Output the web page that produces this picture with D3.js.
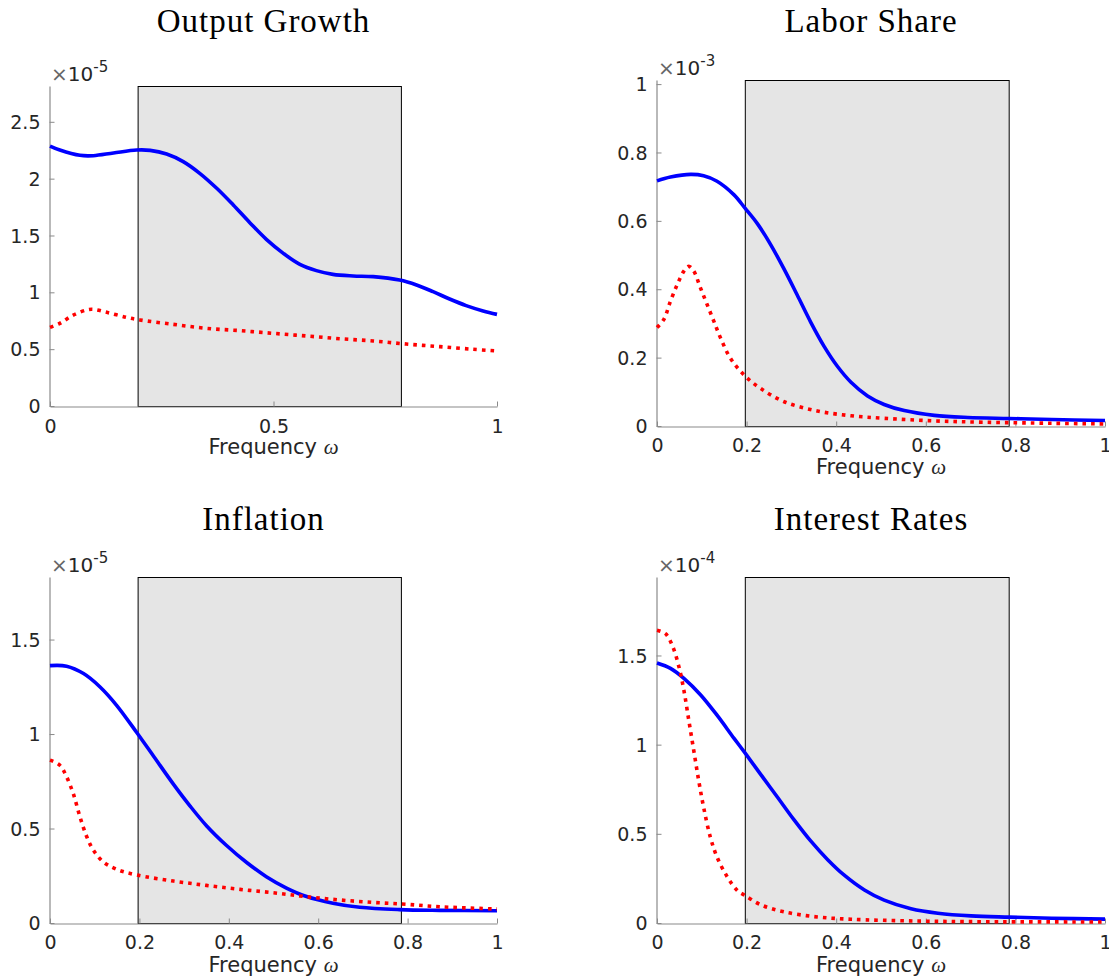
<!DOCTYPE html>
<html><head><meta charset="utf-8">
<script src="https://cdn.jsdelivr.net/npm/d3@7"></script>
<style>body{margin:0;background:#fff} svg{display:block}</style>
</head><body>
<svg id="c" width="1109" height="976"></svg>
<script>
// ---------- data ----------
const panelTitles = ["Output Growth", "Labor Share", "Inflation", "Interest Rates"];
const panelExponents = ["-5", "-3", "-5", "-4"];
const panelYMax = [2.815, 1.012, 1.831, 1.94];
const xTicksCoarse = [0, 0.5, 1];
const xTicksFine = [0, 0.2, 0.4, 0.6, 0.8, 1];
const yTicksOutput = [0, 0.5, 1, 1.5, 2, 2.5];
const yTicksLabor = [0, 0.2, 0.4, 0.6, 0.8, 1];
const yTicksInflation = [0, 0.5, 1, 1.5];
const yTicksInterest = [0, 0.5, 1, 1.5];
const businessCycleBand = [0.196, 0.785];

// Output Growth (x1e-5)
const outputSolidX = [0,0.022,0.067,0.097,0.142,0.194,0.224,0.261,0.298,0.335,0.373,0.41,0.447,0.484,0.522,0.559,0.596,0.633,0.678,0.723,0.782,0.82,0.857,0.894,0.931,0.969,1];
const outputSolidY = [2.287,2.252,2.205,2.202,2.226,2.252,2.249,2.217,2.150,2.047,1.915,1.768,1.613,1.466,1.343,1.246,1.191,1.158,1.144,1.138,1.108,1.065,1.006,0.941,0.883,0.836,0.806];
const outputDotX = [0,0.022,0.052,0.082,0.097,0.127,0.171,0.201,0.276,0.35,0.425,0.5,0.574,0.648,0.723,0.797,0.872,0.946,1];
const outputDotY = [0.692,0.727,0.80,0.845,0.850,0.824,0.780,0.757,0.718,0.683,0.663,0.639,0.616,0.592,0.572,0.545,0.522,0.499,0.484];

// Labor Share (x1e-3)
const laborSolidX = [0,0.03,0.075,0.104,0.134,0.172,0.196,0.224,0.254,0.284,0.313,0.343,0.373,0.403,0.433,0.47,0.507,0.552,0.619,0.694,0.786,0.881,1];
const laborSolidY = [0.717,0.728,0.736,0.732,0.716,0.676,0.638,0.592,0.530,0.458,0.383,0.304,0.233,0.174,0.128,0.088,0.063,0.045,0.031,0.025,0.022,0.019,0.016];
const laborDotX = [0,0.015,0.03,0.045,0.06,0.071,0.082,0.097,0.112,0.127,0.142,0.164,0.196,0.231,0.284,0.358,0.433,0.507,0.619,0.731,0.881,1];
const laborDotY = [0.288,0.311,0.365,0.413,0.453,0.467,0.453,0.404,0.355,0.306,0.257,0.198,0.147,0.110,0.071,0.044,0.030,0.0225,0.015,0.011,0.008,0.006];

// Inflation (x1e-5)
const inflSolidX = [0,0.037,0.075,0.112,0.149,0.194,0.231,0.276,0.313,0.35,0.395,0.44,0.484,0.529,0.574,0.633,0.693,0.782,0.872,1];
const inflSolidY = [1.362,1.359,1.320,1.249,1.152,1.008,0.885,0.735,0.620,0.515,0.410,0.320,0.245,0.185,0.140,0.105,0.083,0.071,0.067,0.065];
const inflDotX = [0,0.022,0.037,0.052,0.067,0.082,0.097,0.119,0.149,0.194,0.276,0.35,0.425,0.5,0.574,0.648,0.723,0.797,0.872,1];
const inflDotY = [0.862,0.835,0.774,0.685,0.562,0.458,0.386,0.324,0.284,0.254,0.222,0.199,0.178,0.160,0.139,0.122,0.109,0.099,0.086,0.074];

// Interest Rates (x1e-4)
const rateSolidX = [0,0.03,0.06,0.097,0.134,0.172,0.196,0.231,0.269,0.306,0.343,0.381,0.418,0.463,0.507,0.567,0.627,0.701,0.786,0.881,1];
const rateSolidY = [1.458,1.428,1.372,1.280,1.165,1.035,0.955,0.835,0.705,0.578,0.460,0.355,0.268,0.185,0.128,0.080,0.055,0.040,0.033,0.027,0.022];
const rateDotX = [0,0.019,0.034,0.049,0.06,0.071,0.082,0.093,0.104,0.119,0.134,0.157,0.179,0.196,0.231,0.284,0.358,0.433,0.582,0.731,1];
const rateDotY = [1.641,1.622,1.557,1.436,1.305,1.136,0.968,0.800,0.650,0.482,0.370,0.258,0.183,0.155,0.103,0.062,0.034,0.021,0.011,0.007,0.006];

// ---------- layout ----------
const layout = [
  {left:50, right:497, top:86, bottom:406, titleY:32, xLabBase:26, xTitleBase:48},
  {left:657, right:1105, top:80, bottom:426, titleY:32, xLabBase:25, xTitleBase:48},
  {left:50, right:497, top:577, bottom:923, titleY:530, xLabBase:25, xTitleBase:49},
  {left:657, right:1105, top:577, bottom:923, titleY:530, xLabBase:25, xTitleBase:49}
];
const panelXTicks = [xTicksCoarse, xTicksFine, xTicksFine, xTicksFine];
const panelYTicks = [yTicksOutput, yTicksLabor, yTicksInflation, yTicksInterest];
const panelSeries = [
  [[outputSolidX, outputSolidY], [outputDotX, outputDotY]],
  [[laborSolidX, laborSolidY], [laborDotX, laborDotY]],
  [[inflSolidX, inflSolidY], [inflDotX, inflDotY]],
  [[rateSolidX, rateSolidY], [rateDotX, rateDotY]]
];

const svg = d3.select("#c");
const axisColor = "#8a8a8a", textColor = "#262626";
const tickFont = "'DejaVu Sans', sans-serif";

layout.forEach((L, i) => {
  const x = d3.scaleLinear().domain([0, 1]).range([L.left, L.right]);
  const y = d3.scaleLinear().domain([0, panelYMax[i]]).range([L.bottom, L.top]);
  const g = svg.append("g");

  // shaded band
  g.append("rect")
    .attr("x", x(businessCycleBand[0]) + 0.5).attr("y", L.top + 0.5)
    .attr("width", x(businessCycleBand[1]) - x(businessCycleBand[0]))
    .attr("height", L.bottom - L.top)
    .attr("fill", "#e5e5e5").attr("stroke", "#000").attr("stroke-width", 1);

  // axes
  const xAxis = d3.axisBottom(x).tickValues(panelXTicks[i]).tickSize(0).tickPadding(0)
    .tickFormat(d3.format("~g"));
  const gx = g.append("g").attr("transform", `translate(0,${L.bottom + 0.5})`).call(xAxis);
  gx.select(".domain").attr("stroke", axisColor).attr("stroke-width", 1.2);
  gx.selectAll(".tick text").attr("y", L.xLabBase).attr("dy", 0)
    .attr("fill", textColor).style("font", `19px ${tickFont}`);
  gx.selectAll(".tick").append("line").attr("y1", 0).attr("y2", -5).attr("stroke", axisColor);

  const yAxis = d3.axisLeft(y).tickValues(panelYTicks[i]).tickSize(0).tickPadding(9)
    .tickFormat(d3.format("~g"));
  const gy = g.append("g").attr("transform", `translate(${L.left - 0.5},0)`).call(yAxis);
  gy.select(".domain").attr("stroke", axisColor).attr("stroke-width", 1.2);
  gy.selectAll(".tick text").attr("fill", textColor).attr("dy", "0.35em").style("font", `19px ${tickFont}`);
  gy.selectAll(".tick").append("line").attr("x1", 0).attr("x2", 5).attr("stroke", axisColor);

  // curves
  const line = d3.line().x(d => x(d[0])).y(d => y(d[1])).curve(d3.curveCatmullRom.alpha(0.5));
  const [solid, dotted] = panelSeries[i];
  const solidPts = solid[0].map((v, k) => [v, solid[1][k]]);
  const dotPts = dotted[0].map((v, k) => [v, dotted[1][k]]);
  g.append("path").attr("d", line(solidPts)).attr("fill", "none")
    .attr("stroke", "#0000ff").attr("stroke-width", 3.6);
  g.append("path").attr("d", line(dotPts)).attr("fill", "none")
    .attr("stroke", "#ff0000").attr("stroke-width", 3.6).attr("stroke-dasharray", "3.6,5");

  // exponent label
  const ex = g.append("text").attr("x", L.left + 1).attr("y", L.top - 5)
    .attr("fill", textColor).style("font", `20px ${tickFont}`);
  ex.append("tspan").text("\u00d7").attr("fill", "#666");
  ex.append("tspan").text("10").attr("fill", textColor);
  ex.append("tspan").text(panelExponents[i]).attr("dy", -9).style("font-size", "15px");

  // title
  g.append("text").attr("x", (L.left + L.right) / 2 - 10).attr("y", L.titleY)
    .attr("text-anchor", "middle").attr("fill", "#000")
    .style("font", "33px 'Liberation Serif', serif").style("letter-spacing", "1px")
    .text(panelTitles[i]);

  // x-axis title
  const xt = g.append("text").attr("x", (L.left + L.right) / 2).attr("y", L.bottom + L.xTitleBase)
    .attr("text-anchor", "middle").attr("fill", textColor).style("font", `21px ${tickFont}`);
  xt.append("tspan").text("Frequency ");
  xt.append("tspan").text("\u03c9").style("font-family", "'Liberation Serif', serif").style("font-style", "italic");
});
</script>
</body></html>
